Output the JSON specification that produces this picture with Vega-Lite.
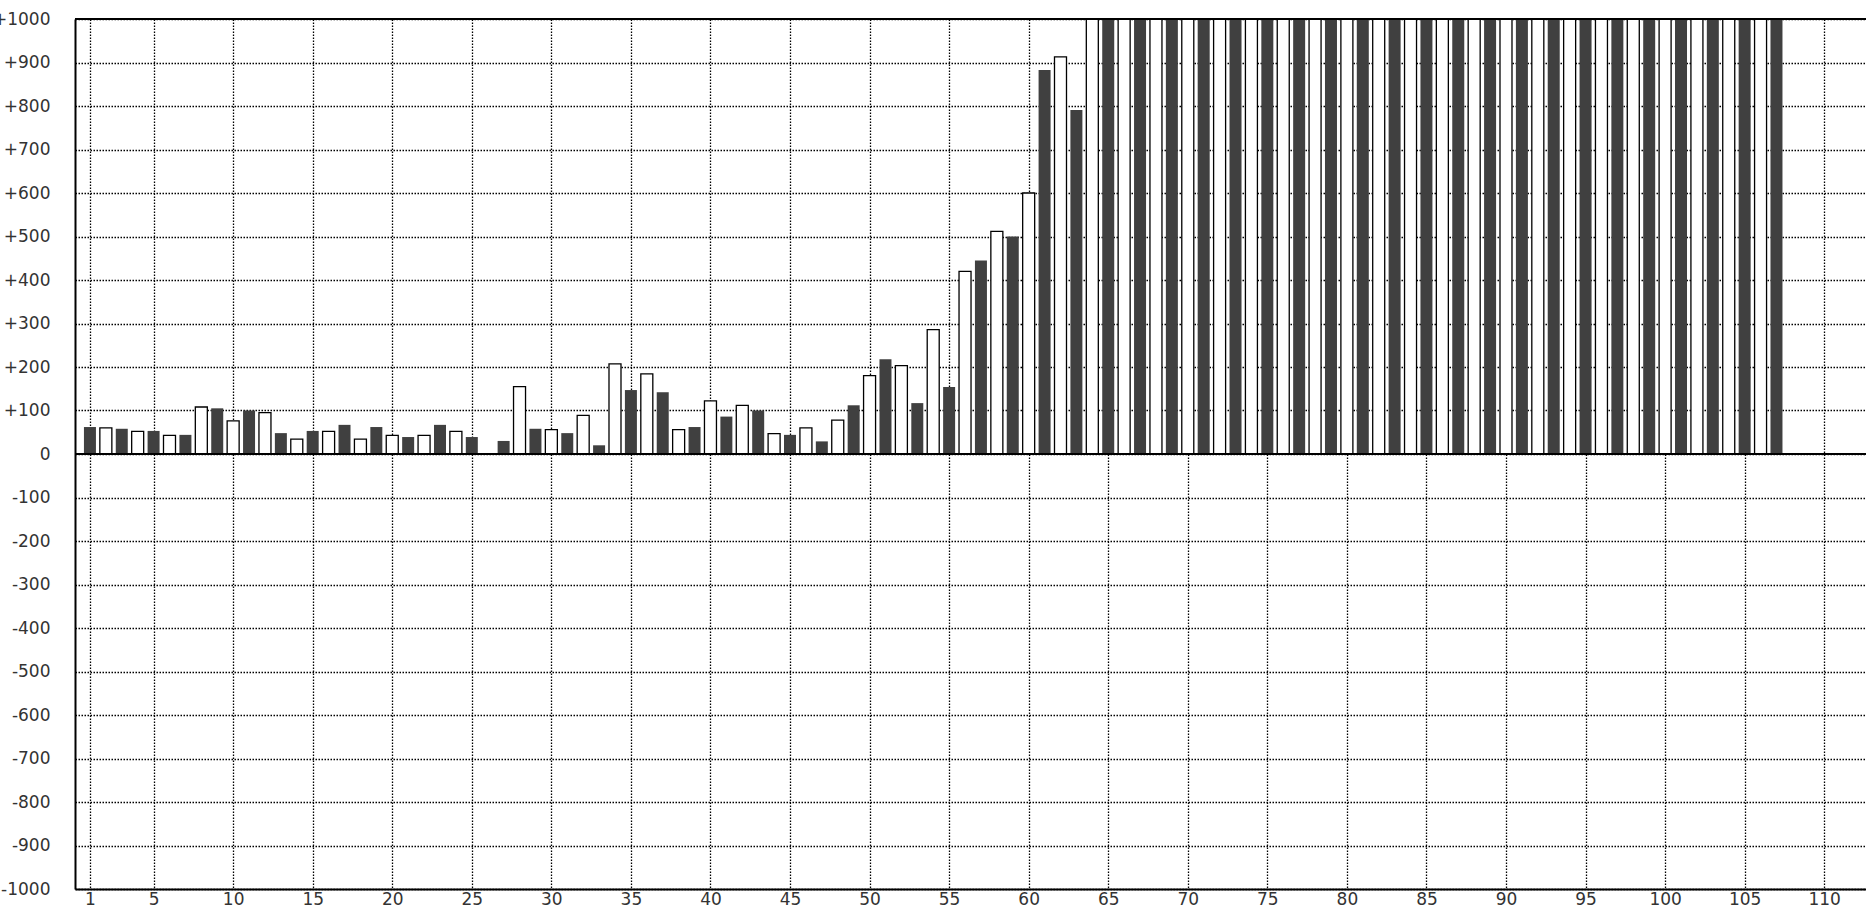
{
  "$schema": "https://vega.github.io/schema/vega-lite/v6.json",
  "width": 1791,
  "height": 870,
  "autosize": {"type": "none"},
  "padding": {"left": 75, "top": 19, "right": 0, "bottom": 23},
  "background": "white",
  "config": {"view": {"stroke": null}},
  "data": {"values": [
    {"index": 1, "value": 62, "series": "A"},
    {"index": 2, "value": 60, "series": "B"},
    {"index": 3, "value": 58, "series": "A"},
    {"index": 4, "value": 52, "series": "B"},
    {"index": 5, "value": 53, "series": "A"},
    {"index": 6, "value": 43, "series": "B"},
    {"index": 7, "value": 44, "series": "A"},
    {"index": 8, "value": 108, "series": "B"},
    {"index": 9, "value": 105, "series": "A"},
    {"index": 10, "value": 76, "series": "B"},
    {"index": 11, "value": 100, "series": "A"},
    {"index": 12, "value": 95, "series": "B"},
    {"index": 13, "value": 48, "series": "A"},
    {"index": 14, "value": 34, "series": "B"},
    {"index": 15, "value": 53, "series": "A"},
    {"index": 16, "value": 52, "series": "B"},
    {"index": 17, "value": 67, "series": "A"},
    {"index": 18, "value": 34, "series": "B"},
    {"index": 19, "value": 62, "series": "A"},
    {"index": 20, "value": 43, "series": "B"},
    {"index": 21, "value": 39, "series": "A"},
    {"index": 22, "value": 43, "series": "B"},
    {"index": 23, "value": 67, "series": "A"},
    {"index": 24, "value": 52, "series": "B"},
    {"index": 25, "value": 39, "series": "A"},
    {"index": 26, "value": 0, "series": "B"},
    {"index": 27, "value": 30, "series": "A"},
    {"index": 28, "value": 155, "series": "B"},
    {"index": 29, "value": 58, "series": "A"},
    {"index": 30, "value": 56, "series": "B"},
    {"index": 31, "value": 48, "series": "A"},
    {"index": 32, "value": 89, "series": "B"},
    {"index": 33, "value": 20, "series": "A"},
    {"index": 34, "value": 207, "series": "B"},
    {"index": 35, "value": 147, "series": "A"},
    {"index": 36, "value": 184, "series": "B"},
    {"index": 37, "value": 142, "series": "A"},
    {"index": 38, "value": 56, "series": "B"},
    {"index": 39, "value": 62, "series": "A"},
    {"index": 40, "value": 122, "series": "B"},
    {"index": 41, "value": 86, "series": "A"},
    {"index": 42, "value": 112, "series": "B"},
    {"index": 43, "value": 100, "series": "A"},
    {"index": 44, "value": 47, "series": "B"},
    {"index": 45, "value": 44, "series": "A"},
    {"index": 46, "value": 60, "series": "B"},
    {"index": 47, "value": 29, "series": "A"},
    {"index": 48, "value": 78, "series": "B"},
    {"index": 49, "value": 112, "series": "A"},
    {"index": 50, "value": 180, "series": "B"},
    {"index": 51, "value": 218, "series": "A"},
    {"index": 52, "value": 203, "series": "B"},
    {"index": 53, "value": 117, "series": "A"},
    {"index": 54, "value": 286, "series": "B"},
    {"index": 55, "value": 154, "series": "A"},
    {"index": 56, "value": 420, "series": "B"},
    {"index": 57, "value": 445, "series": "A"},
    {"index": 58, "value": 512, "series": "B"},
    {"index": 59, "value": 500, "series": "A"},
    {"index": 60, "value": 600, "series": "B"},
    {"index": 61, "value": 883, "series": "A"},
    {"index": 62, "value": 913, "series": "B"},
    {"index": 63, "value": 791, "series": "A"},
    {"index": 64, "value": 1000, "series": "B"},
    {"index": 65, "value": 1000, "series": "A"},
    {"index": 66, "value": 1000, "series": "B"},
    {"index": 67, "value": 1000, "series": "A"},
    {"index": 68, "value": 1000, "series": "B"},
    {"index": 69, "value": 1000, "series": "A"},
    {"index": 70, "value": 1000, "series": "B"},
    {"index": 71, "value": 1000, "series": "A"},
    {"index": 72, "value": 1000, "series": "B"},
    {"index": 73, "value": 1000, "series": "A"},
    {"index": 74, "value": 1000, "series": "B"},
    {"index": 75, "value": 1000, "series": "A"},
    {"index": 76, "value": 1000, "series": "B"},
    {"index": 77, "value": 1000, "series": "A"},
    {"index": 78, "value": 1000, "series": "B"},
    {"index": 79, "value": 1000, "series": "A"},
    {"index": 80, "value": 1000, "series": "B"},
    {"index": 81, "value": 1000, "series": "A"},
    {"index": 82, "value": 1000, "series": "B"},
    {"index": 83, "value": 1000, "series": "A"},
    {"index": 84, "value": 1000, "series": "B"},
    {"index": 85, "value": 1000, "series": "A"},
    {"index": 86, "value": 1000, "series": "B"},
    {"index": 87, "value": 1000, "series": "A"},
    {"index": 88, "value": 1000, "series": "B"},
    {"index": 89, "value": 1000, "series": "A"},
    {"index": 90, "value": 1000, "series": "B"},
    {"index": 91, "value": 1000, "series": "A"},
    {"index": 92, "value": 1000, "series": "B"},
    {"index": 93, "value": 1000, "series": "A"},
    {"index": 94, "value": 1000, "series": "B"},
    {"index": 95, "value": 1000, "series": "A"},
    {"index": 96, "value": 1000, "series": "B"},
    {"index": 97, "value": 1000, "series": "A"},
    {"index": 98, "value": 1000, "series": "B"},
    {"index": 99, "value": 1000, "series": "A"},
    {"index": 100, "value": 1000, "series": "B"},
    {"index": 101, "value": 1000, "series": "A"},
    {"index": 102, "value": 1000, "series": "B"},
    {"index": 103, "value": 1000, "series": "A"},
    {"index": 104, "value": 1000, "series": "B"},
    {"index": 105, "value": 1000, "series": "A"},
    {"index": 106, "value": 1000, "series": "B"},
    {"index": 107, "value": 1000, "series": "A"}
  ]},
  "layer": [
    {
      "mark": {"type": "bar", "width": 12, "strokeWidth": 1.3},
      "encoding": {
        "x": {
          "field": "index", "type": "quantitative",
          "scale": {"domain": [0.375, 112.3125], "nice": false, "zero": false},
          "axis": {
            "title": null,
            "values": [1, 5, 10, 15, 20, 25, 30, 35, 40, 45, 50, 55, 60, 65, 70, 75, 80, 85, 90, 95, 100, 105, 110],
            "grid": true, "gridDash": [1.5, 1.5], "gridColor": "#000000", "gridWidth": 1.3, "gridOpacity": 1,
            "ticks": false, "domain": true, "domainColor": "#000000", "domainWidth": 2,
            "labelFont": "DejaVu Sans", "labelFontSize": 17, "labelColor": "#333333",
            "labelPadding": 2, "labelFlush": false, "labelOverlap": false
          }
        },
        "y": {
          "field": "value", "type": "quantitative",
          "scale": {"domain": [-1000, 1000], "nice": false},
          "axis": {
            "title": null,
            "values": [-1000, -900, -800, -700, -600, -500, -400, -300, -200, -100, 0, 100, 200, 300, 400, 500, 600, 700, 800, 900, 1000],
            "labelExpr": "datum.value > 0 ? '+' + datum.value : '' + datum.value",
            "grid": true, "gridDash": [1.5, 1.5], "gridColor": "#000000", "gridWidth": 1.3, "gridOpacity": 1,
            "ticks": false, "domain": true, "domainColor": "#000000", "domainWidth": 2,
            "labelFont": "DejaVu Sans", "labelFontSize": 17, "labelColor": "#333333",
            "labelPadding": 25, "labelFlush": false, "labelOverlap": false
          }
        },
        "fill": {"field": "series", "type": "nominal", "scale": {"domain": ["A", "B"], "range": ["#404040", "#ffffff"]}, "legend": null},
        "stroke": {"field": "series", "type": "nominal", "scale": {"domain": ["A", "B"], "range": ["transparent", "#000000"]}, "legend": null}
      }
    },
    {
      "data": {"values": [{}]},
      "mark": {"type": "rule", "color": "#000000", "strokeWidth": 2},
      "encoding": {"y": {"datum": 0}}
    },
    {
      "data": {"values": [{}]},
      "mark": {"type": "rule", "color": "#000000", "strokeWidth": 2},
      "encoding": {"y": {"datum": 1000}}
    }
  ]
}
